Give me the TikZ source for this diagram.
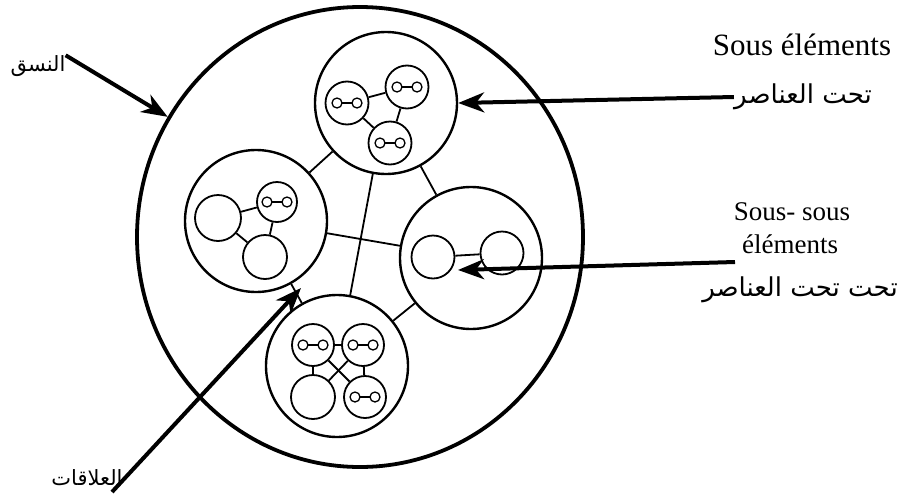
\documentclass[tikz,border=0pt]{standalone}
\usepackage{fontspec}
\setmainfont{Liberation Serif}
\newfontfamily\arabicfont[Script=Arabic]{DejaVu Sans}
\TeXXeTstate=1
\usetikzlibrary{arrows.meta,shapes.geometric}
\tikzset{
  icon/.pic={
    \draw[line width=1.3pt] (-10pt,0pt) circle (5pt) (10pt,0pt) circle (5pt);
    \draw[line width=1.3pt] (-5pt,0pt) -- (5pt,0pt);
  }
}
\begin{document}
\begin{tikzpicture}[x=1pt,y=-1pt,
  big/.style={ellipse,draw,line width=3.8pt,minimum width=446pt,minimum height=460pt,inner sep=0pt},
  sub/.style={circle,draw,line width=2.4pt,minimum size=142pt,inner sep=0pt},
  inn/.style={circle,draw,line width=1.8pt,minimum size=43pt,inner sep=0pt},
  link/.style={line width=1.8pt},
  arr/.style={line width=4pt,-{Stealth[length=26pt,width=20pt,inset=8pt]}},
  lat/.style={inner sep=0pt,font=\fontsize{31}{36}\selectfont},
  lats/.style={inner sep=0pt,font=\fontsize{27}{32}\selectfont},
  ara/.style={inner sep=0pt,font=\arabicfont\fontsize{26}{30}\selectfont},
  aras/.style={inner sep=0pt,font=\arabicfont\fontsize{21}{25}\selectfont}
]
\useasboundingbox (0,0) rectangle (916,501);
\fill[white] (0,0) rectangle (916,501);

% main system
\node[big] (Big) at (360,237) {};

% sub elements
\node[sub] (T) at (386,103) {};
\node[sub] (L) at (256,221) {};
\node[sub] (R) at (471,258) {};
\node[sub] (B) at (337,366) {};

\draw[link] (T) -- (L);
\draw[link] (T) -- (R);
\draw[link] (T) -- (B);
\draw[link] (L) -- (R);
\draw[link] (L) -- (B);
\draw[link] (R) -- (B);

% top
\node[inn] (T1) at (347,103) {};
\node[inn] (T2) at (407,87) {};
\node[inn] (T3) at (390,143) {};
\draw[link] (T1) -- (T2);
\draw[link] (T1) -- (T3);
\draw[link] (T2) -- (T3);
\pic at (T1) {icon};
\pic at (T2) {icon};
\pic at (T3) {icon};

% left
\node[inn,minimum size=46pt] (L1) at (218,218) {};
\node[inn,minimum size=40pt] (L2) at (277,202) {};
\node[inn,minimum size=44pt] (L3) at (265,257) {};
\draw[link] (L1) -- (L2);
\draw[link] (L1) -- (L3);
\draw[link] (L2) -- (L3);
\pic at (L2) {icon};

% right
\node[inn] (R1) at (433,257) {};
\node[inn] (R2) at (502,253) {};
\draw[link] (R1) -- (R2);

% bottom
\node[inn,minimum size=42pt] (B1) at (313,345) {};
\node[inn,minimum size=42pt] (B2) at (363,345) {};
\node[inn,minimum size=44pt] (B3) at (313,397) {};
\node[inn,minimum size=42pt] (B4) at (365,397) {};
\draw[link] (B1) -- (B2);
\draw[link] (B1) -- (B3);
\draw[link] (B2) -- (B4);
\draw[link] (B1) -- (B4);
\draw[link] (B2) -- (B3);
\pic at (B1) {icon};
\pic at (B2) {icon};
\pic at (B4) {icon};

% labels
\node[aras] (lab1) at (38,66) {\beginR النسق\endR};
\node[lat] (lab2a) at (802,45) {Sous éléments};
\node[ara] (lab2) at (803,97) {\beginR تحت العناصر\endR};
\node[lats] (lab3a) at (792,212) {Sous- sous};
\node[lats] (lab3b) at (790,244) {éléments};
\node[ara] (lab3) at (800,290) {\beginR تحت تحت العناصر\endR};
\node[aras] (lab4) at (87,478) {\beginR العلاقات\endR};

% arrows
\coordinate (s3) at (735,262);
\coordinate (tip3) at (458,270);
\coordinate (s4) at (112,492);
\coordinate (tip4) at (301,288);
\draw[arr] (lab1.north east) -- (Big.148);
\draw[arr] (lab2.west) -- (T.east);
\draw[arr] (s3) -- (tip3);
\draw[arr] (s4) -- (tip4);
\end{tikzpicture}
\end{document}
